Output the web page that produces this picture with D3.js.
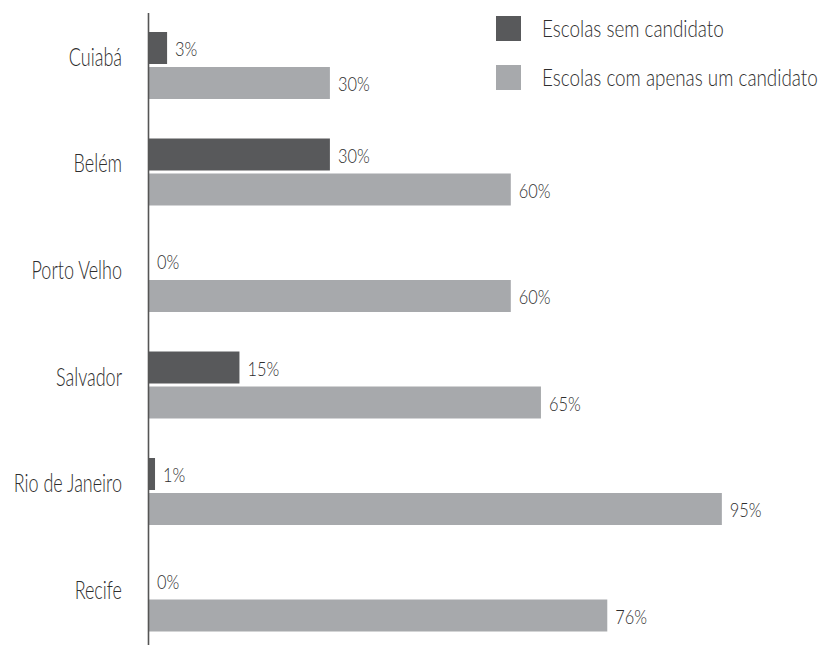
<!DOCTYPE html>
<html>
<head>
<meta charset="utf-8">
<script src="https://cdn.jsdelivr.net/npm/d3@7"></script>
<style>
  html, body { margin: 0; padding: 0; background: #fff; }
  svg { display: block; }
  text { font-family: Lato, "Liberation Sans", sans-serif; font-weight: 300; fill: #2e2e2e; }
</style>
</head>
<body>
<svg id="chart" width="822" height="645"></svg>
<script>
// Cities, top to bottom
const cities = ["Cuiabá", "Belém", "Porto Velho", "Salvador", "Rio de Janeiro", "Recife"];
// Share of schools with no candidate (%)
const semCandidato = [3, 30, 0, 15, 1, 0];
// Share of schools with only one candidate (%)
const umCandidato = [30, 60, 60, 65, 95, 76];
// Series names and colours
const seriesKeys = ["sem", "um"];
const seriesNames = ["Escolas sem candidato", "Escolas com apenas um candidato"];
const seriesColors = ["#58595b", "#a7a9ac"];

const rows = cities.map((c, i) => ({ city: c, sem: semCandidato[i], um: umCandidato[i] }));

const svg = d3.select("#chart");

const x = d3.scaleLinear().domain([0, 100]).range([149, 752]);
const y = d3.scaleBand().domain(cities).range([32, 631.5]).paddingInner(0.371).paddingOuter(0);
const ySub = d3.scaleBand().domain(seriesKeys).range([0, y.bandwidth()]).paddingInner(3 / 35);
const color = d3.scaleOrdinal().domain(seriesKeys).range(seriesColors);

// Condensed lettering: squeeze text horizontally around its anchor point
const squeeze = (px, py, k) => `translate(${px},${py}) scale(${k},1)`;

// Bars
const groups = svg.append("g").selectAll("g")
  .data(rows).join("g")
  .attr("transform", d => `translate(0,${y(d.city)})`);

groups.selectAll("rect")
  .data(d => seriesKeys.map(k => ({ key: k, value: d[k] })))
  .join("rect")
  .attr("x", x(0))
  .attr("y", d => ySub(d.key))
  .attr("width", d => x(d.value) - x(0))
  .attr("height", ySub.bandwidth())
  .attr("fill", d => color(d.key));

// Value labels
groups.selectAll("text.val")
  .data(d => seriesKeys.map(k => ({ key: k, value: d[k] })))
  .join("text")
  .attr("class", "val")
  .attr("transform", d => squeeze(x(d.value) + 8, ySub(d.key) + ySub.bandwidth() / 2 + 1, 0.82))
  .attr("dy", "0.36em")
  .style("font-size", "20px")
  .text(d => d.value + "%");

// Category labels, baseline just under the first bar
svg.append("g").selectAll("text")
  .data(cities).join("text")
  .attr("transform", d => squeeze(122, y(d) + ySub.bandwidth() + 2, 0.72))
  .attr("text-anchor", "end")
  .style("font-size", "25px")
  .text(d => d);

// Vertical axis line
svg.append("line")
  .attr("x1", 148.5).attr("x2", 148.5)
  .attr("y1", 13).attr("y2", 645)
  .attr("stroke", "#555")
  .attr("stroke-width", 1.6);

// Legend
const legend = svg.append("g");
const ly = d3.scaleOrdinal().domain(seriesKeys).range([16, 65]);
legend.selectAll("rect")
  .data(seriesKeys).join("rect")
  .attr("x", 496)
  .attr("y", d => ly(d))
  .attr("width", 25)
  .attr("height", 25)
  .attr("fill", d => color(d));
legend.selectAll("text")
  .data(seriesKeys).join("text")
  .attr("transform", d => squeeze(542, ly(d) + 21, 0.82))
  .style("font-size", "23px")
  .text((d, i) => seriesNames[i]);
</script>
</body>
</html>
